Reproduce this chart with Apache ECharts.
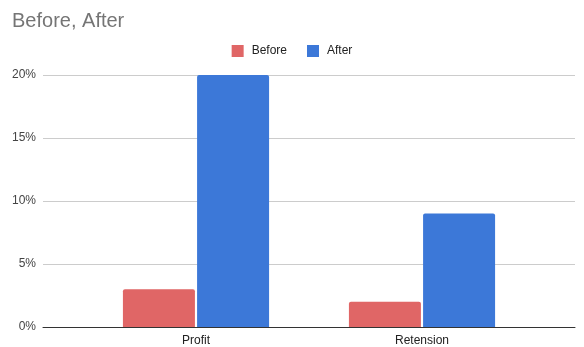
<!DOCTYPE html>
<html>
<head>
<meta charset="utf-8">
<script src="https://cdn.jsdelivr.net/npm/echarts@6/dist/echarts.min.js"></script>
<style>
  html, body { margin: 0; padding: 0; background: #fff; }
  #chart { width: 584px; height: 347px; }
</style>
</head>
<body>
<div id="chart"></div>
<script>
// Category names and series values (percent)
const categories = ['Profit', 'Retension'];
const beforeValues = [3, 2];
const afterValues = [20, 9];
const yTicks = [0, 5, 10, 15, 20];

const FONT = 'Arial, "Liberation Sans", sans-serif';
const chart = echarts.init(document.getElementById('chart'));

const yBase = {
  type: 'value',
  min: yTicks[0],
  max: yTicks[yTicks.length - 1],
  interval: yTicks[1] - yTicks[0]
};

chart.setOption({
  animation: false,
  title: {
    text: 'Before, After',
    left: 7,
    top: 6,
    textStyle: { color: '#757575', fontSize: 20, fontWeight: 'normal', fontFamily: FONT }
  },
  legend: {
    top: 40,
    left: 'center',
    itemWidth: 12,
    itemHeight: 12,
    itemGap: 20,
    icon: 'rect',
    textStyle: { color: '#222', fontSize: 12, fontFamily: FONT, padding: [0, 0, 0, 3] },
    data: ['Before', 'After']
  },
  grid: [
    // full-width frame: gridlines, y labels and baseline
    { left: 43, right: 9, top: 75, bottom: 20 },
    // inner band holding the bars
    { left: 83, right: 49, top: 75, bottom: 20 }
  ],
  xAxis: [
    {
      type: 'value', gridIndex: 0, min: 0, max: 1,
      axisLine: { show: true, onZero: false, lineStyle: { color: '#333', width: 1 } },
      axisTick: { show: false }, axisLabel: { show: false }, splitLine: { show: false }
    },
    {
      type: 'category', gridIndex: 1, data: categories,
      axisLine: { show: false }, axisTick: { show: false },
      axisLabel: { color: '#222', fontSize: 12, margin: 8, fontFamily: FONT }
    }
  ],
  yAxis: [
    Object.assign({}, yBase, {
      gridIndex: 0,
      axisLine: { show: false }, axisTick: { show: false },
      axisLabel: { color: '#444', fontSize: 12, margin: 7, formatter: '{value}%', fontFamily: FONT },
      splitLine: { lineStyle: { color: '#cccccc', width: 1 } }
    }),
    Object.assign({}, yBase, {
      gridIndex: 1,
      axisLine: { show: false }, axisTick: { show: false },
      axisLabel: { show: false }, splitLine: { show: false }
    })
  ],
  series: [
    {
      name: 'Before', type: 'bar', xAxisIndex: 1, yAxisIndex: 1,
      data: beforeValues, barWidth: 72, barGap: '3%',
      itemStyle: { color: '#e06666', borderRadius: [2, 2, 0, 0] }
    },
    {
      name: 'After', type: 'bar', xAxisIndex: 1, yAxisIndex: 1,
      data: afterValues, barWidth: 72, barGap: '3%',
      itemStyle: { color: '#3c78d8', borderRadius: [2, 2, 0, 0] }
    }
  ]
});
</script>
</body>
</html>
